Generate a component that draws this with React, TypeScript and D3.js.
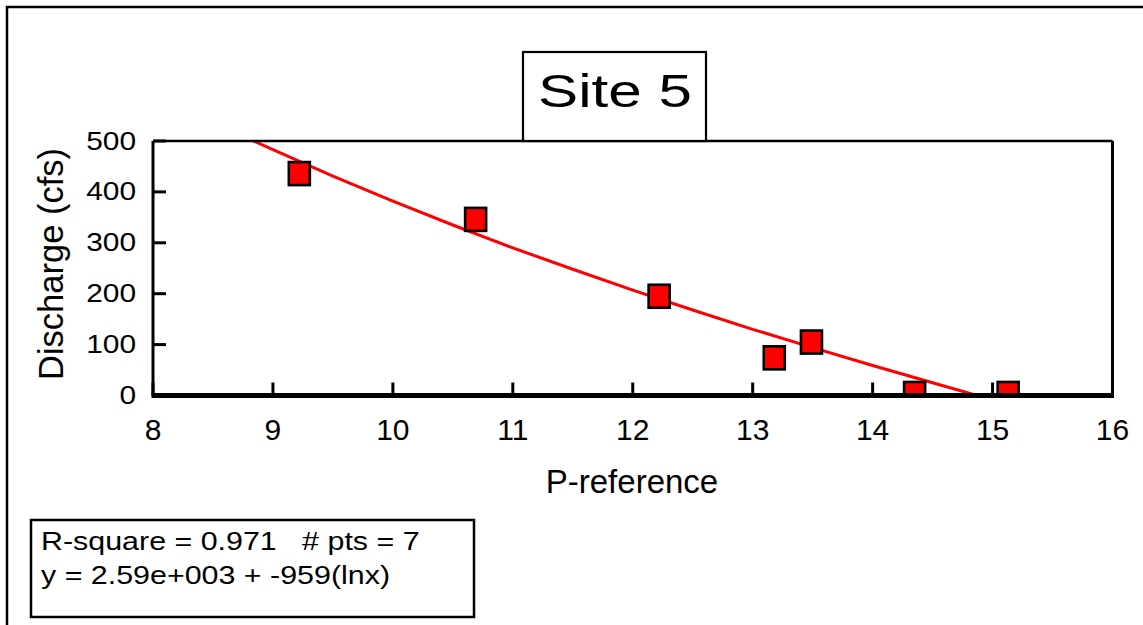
import React from "react";
import * as d3 from "d3";

const W = 1143;
const H = 625;

// Observed data points (P-reference, Discharge cfs)
const pointX = [9.22, 10.69, 12.22, 13.18, 13.49, 14.35, 15.13];
const pointY = [436, 346, 195, 74, 105, 4, 4];

// Fitted curve (y = 2.59e+003 + -959(lnx))
const curveX = [8.8, 9, 9.5, 10, 10.5, 11, 11.5, 12, 12.5, 13, 13.5, 14, 14.5, 14.87];
const curveY = [504, 483, 431, 382, 335, 290, 248, 207, 168, 130, 94, 59, 25, 0];

const xTicks = [8, 9, 10, 11, 12, 13, 14, 15, 16];
const yTicks = [0, 100, 200, 300, 400, 500];

const titleText = "Site 5";
const xLabel = "P-reference";
const yLabel = "Discharge (cfs)";
const statLine1 = "R-square = 0.971   # pts = 7";
const statLine2 = "y = 2.59e+003 + -959(lnx)";

const FONT = "'Liberation Sans', Arial, Helvetica, sans-serif";

export default function App() {
  const left = 153;
  const right = 1112.5;
  const top = 141;
  const bottom = 395.5;

  const x = d3.scaleLinear().domain([8, 16]).range([left, right]);
  const y = d3.scaleLinear().domain([0, 500]).range([bottom, top]);

  const line = d3
    .line<number>()
    .x((_, i) => x(curveX[i]))
    .y((_, i) => y(curveY[i]));
  const curvePath = line(curveX) || "";

  return (
    <svg
      width={W}
      height={H}
      style={{ position: "absolute", left: 0, top: 0, background: "#fff" }}
      fontFamily={FONT}
    >
      <defs>
        <clipPath id="plotClip">
          <rect x={left} y={top} width={right - left} height={bottom - top} />
        </clipPath>
      </defs>
      <rect x={0} y={0} width={W} height={H} fill="#fff" />
      {/* outer frame */}
      <rect x={7} y={7} width={1300} height={800} fill="none" stroke="#000" strokeWidth={2.5} />

      {/* curve */}
      <g clipPath="url(#plotClip)">
        <path d={curvePath} fill="none" stroke="#ff0000" strokeWidth={3} />
        {pointX.map((px, i) => (
          <rect
            key={i}
            x={x(px) - 10.5}
            y={y(pointY[i]) - 11.5}
            width={21}
            height={23}
            fill="#ff0000"
            stroke="#000"
            strokeWidth={2.6}
          />
        ))}
      </g>

      {/* plot frame */}
      <line x1={left} x2={right} y1={top} y2={top} stroke="#000" strokeWidth={2.5} />
      <line x1={right} x2={right} y1={top} y2={bottom} stroke="#000" strokeWidth={3} />
      <line x1={left} x2={left} y1={top} y2={bottom} stroke="#000" strokeWidth={3} />
      <line x1={left - 1.5} x2={right + 1.5} y1={bottom} y2={bottom} stroke="#000" strokeWidth={5} />

      {/* y ticks */}
      {yTicks.map((t) => (
        <g key={"y" + t}>
          <line x1={left} x2={left + 13} y1={y(t)} y2={y(t)} stroke="#000" strokeWidth={3} />
          <text
            transform={`translate(${136},${y(t) + 8.5}) scale(1.15,1)`}
            textAnchor="end"
            fontSize={26}
            fill="#000"
          >
            {t}
          </text>
        </g>
      ))}

      {/* x ticks */}
      {xTicks.map((t) => (
        <g key={"x" + t}>
          <line x1={x(t)} x2={x(t)} y1={bottom} y2={bottom - 13} stroke="#000" strokeWidth={3} />
          <text x={x(t)} y={440} textAnchor="middle" fontSize={30} fill="#000">
            {t}
          </text>
        </g>
      ))}

      {/* axis titles */}
      <text x={632} y={493} textAnchor="middle" fontSize={33} fill="#000">
        {xLabel}
      </text>
      <text
        transform={`translate(${63},${264}) rotate(-90)`}
        textAnchor="middle"
        fontSize={34.5}
        fill="#000"
      >
        {yLabel}
      </text>

      {/* title box */}
      <rect x={523} y={52} width={183} height={top - 52} fill="#fff" stroke="#000" strokeWidth={2.2} />
      <text
        transform={`translate(${615},${107}) scale(1.28,1)`}
        textAnchor="middle"
        fontSize={47}
        fill="#000"
      >
        {titleText}
      </text>

      {/* stats box */}
      <rect x={31} y={520} width={443} height={97} fill="#fff" stroke="#000" strokeWidth={2.5} />
      <text transform={`translate(${41},${550}) scale(1.17,1)`} fontSize={26} fill="#000" style={{ whiteSpace: "pre" }}>
        {statLine1}
      </text>
      <text transform={`translate(${41},${584}) scale(1.17,1)`} fontSize={26} fill="#000" style={{ whiteSpace: "pre" }}>
        {statLine2}
      </text>
    </svg>
  );
}
